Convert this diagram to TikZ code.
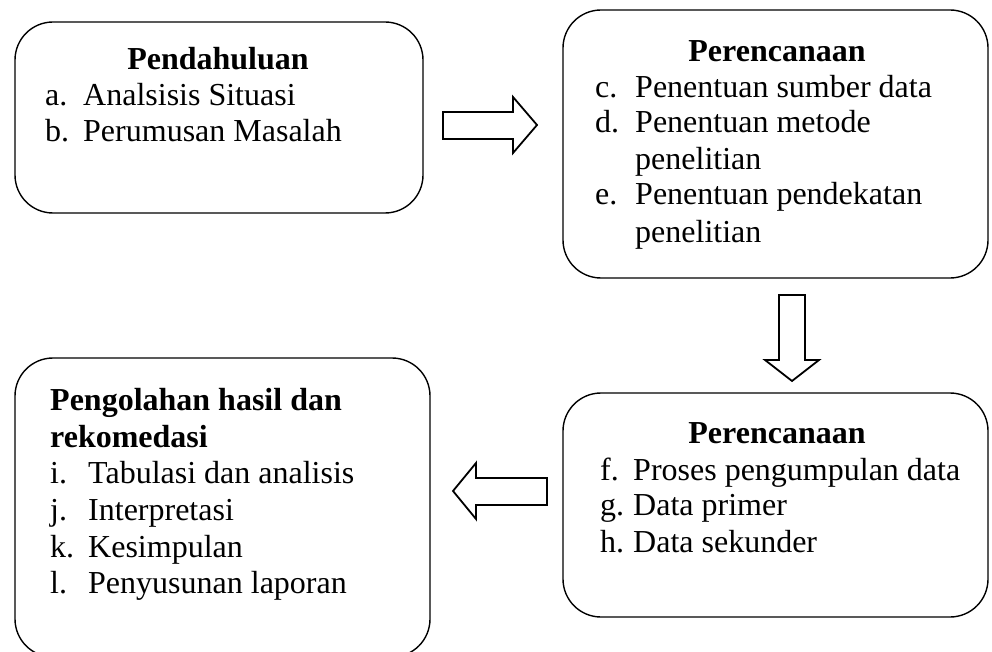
\documentclass[tikz,border=0pt]{standalone}
\usepackage{fontspec}
\setmainfont{Liberation Serif}
\begin{document}
\begin{tikzpicture}[x=1pt,y=-1pt,
  box/.style={draw, line width=1.4pt, rounded corners=38pt, inner sep=0pt},
  blockarrow/.style={draw, line width=1.8pt, line join=miter, fill=white},
  txt/.style={anchor=base west, inner sep=0pt, font=\fontsize{32}{36}\selectfont},
  ttl/.style={anchor=base, inner sep=0pt, font=\fontsize{32}{36}\selectfont\bfseries},
  ttlw/.style={anchor=base west, inner sep=0pt, font=\fontsize{32}{36}\selectfont\bfseries}]
\useasboundingbox (0,0) rectangle (992,652);
\begin{scope}
\clip (0,0) rectangle (992,652);
% boxes
\node[box, minimum width=408pt, minimum height=191pt] (b1) at (219,117.5) {};
\node[box, minimum width=425pt, minimum height=268pt] (b2) at (775.5,144) {};
\node[box, minimum width=425pt, minimum height=224pt] (b3) at (775.5,505) {};
\node[box, minimum width=415pt, minimum height=299pt] (b4) at (222.5,507.5) {};
\end{scope}
% box 1
\node[ttl] (t1) at (218,70) {Pendahuluan};
\node[txt] (a1) at (45,106) {a.};  \node[txt] (a2) at (83,106) {Analsisis Situasi};
\node[txt] (b1l) at (45,142) {b.}; \node[txt] (b2l) at (83,142) {Perumusan Masalah};
% box 2
\node[ttl] (t2) at (777,62) {Perencanaan};
\node[txt] (c1) at (595,98) {c.};  \node[txt] (c2) at (635,98) {Penentuan sumber data};
\node[txt] (d1) at (595,133) {d.}; \node[txt] (d2) at (635,133) {Penentuan metode};
\node[txt] (d3) at (635,170) {penelitian};
\node[txt] (e1) at (595,205) {e.}; \node[txt] (e2) at (635,205) {Penentuan pendekatan};
\node[txt] (e3) at (635,242) {penelitian};
% box 3
\node[ttl] (t3) at (777,443) {Perencanaan};
\node[txt] (f1) at (600,480) {f.}; \node[txt] (f2) at (633,480) {Proses pengumpulan data};
\node[txt] (g1) at (600,515) {g.}; \node[txt] (g2) at (633,515) {Data primer};
\node[txt] (h1) at (600,552) {h.}; \node[txt] (h2) at (633,552) {Data sekunder};
% box 4
\node[ttlw] (t4a) at (50,410) {Pengolahan hasil dan};
\node[ttlw] (t4b) at (50,447) {rekomedasi};
\node[txt] (i1) at (50,483) {i.}; \node[txt] (i2) at (88,483) {Tabulasi dan analisis};
\node[txt] (j1) at (50,520) {j.}; \node[txt] (j2) at (88,520) {Interpretasi};
\node[txt] (k1) at (50,557) {k.}; \node[txt] (k2) at (88,557) {Kesimpulan};
\node[txt] (l1) at (50,593) {l.}; \node[txt] (l2) at (88,593) {Penyusunan laporan};
% block arrows
\draw[blockarrow] (443,112) -- (513,112) -- (513,97) -- (537,125) -- (513,153) -- (513,139) -- (443,139) -- cycle;
\draw[blockarrow] (779,295) -- (805,295) -- (805,360) -- (819,360) -- (792,381) -- (765,360) -- (779,360) -- cycle;
\draw[blockarrow] (547,478) -- (476,478) -- (476,463) -- (453,491) -- (476,519) -- (476,505) -- (547,505) -- cycle;
\end{tikzpicture}
\end{document}
